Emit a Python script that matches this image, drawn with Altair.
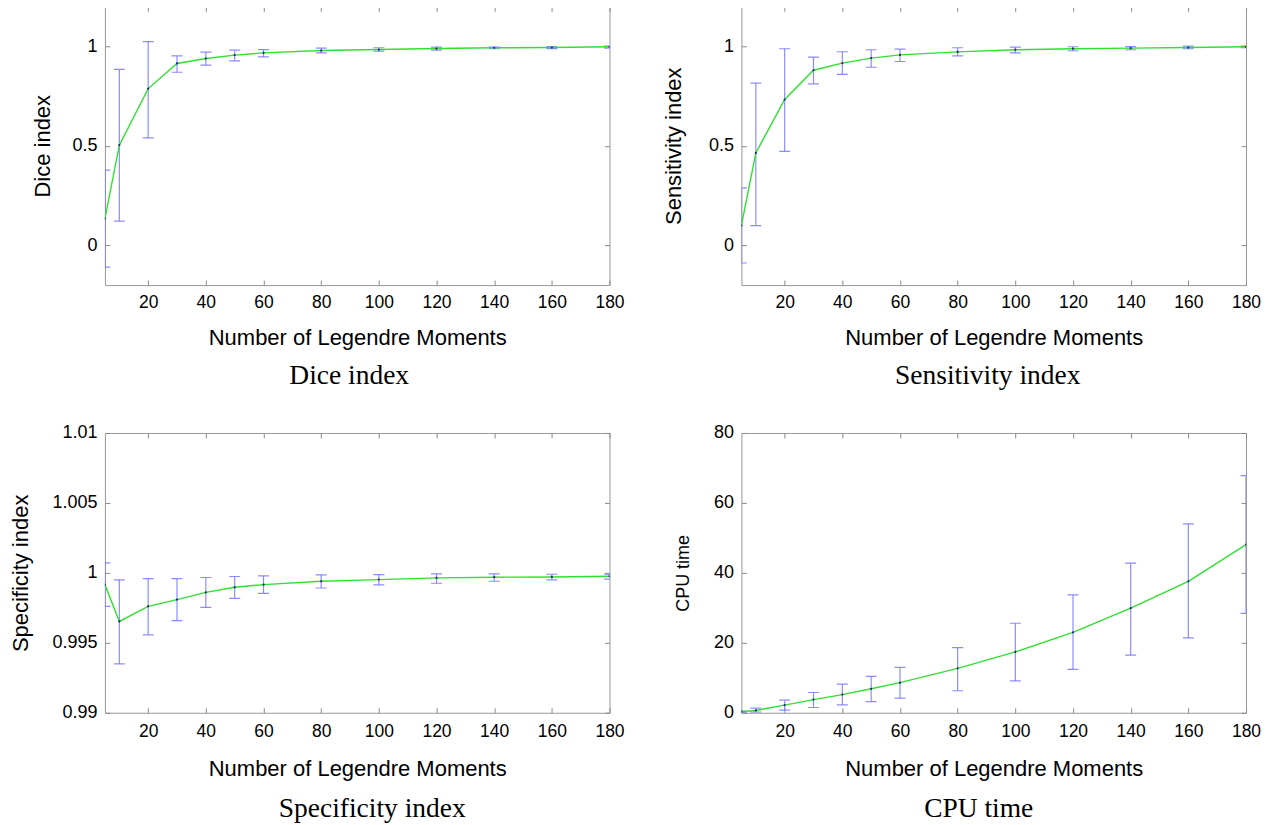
import altair as alt
import pandas as pd

# Number of Legendre moments
n_moments = [5, 10, 20, 30, 40, 50, 60, 80, 100, 120, 140, 160, 180]
x_ticks = [20, 40, 60, 80, 100, 120, 140, 160, 180]

# Dice index
dice_mean = [0.134, 0.503, 0.787, 0.913, 0.938, 0.955, 0.966, 0.978, 0.983, 0.988, 0.992, 0.993, 0.997]
dice_lo = [-0.11, 0.121, 0.539, 0.869, 0.905, 0.926, 0.946, 0.966, 0.975, 0.980, 0.987, 0.988, 0.990]
dice_hi = [0.377, 0.883, 1.023, 0.951, 0.970, 0.980, 0.983, 0.990, 0.992, 0.995, 0.995, 0.998, 1.0]

# Sensitivity index
sens_mean = [0.099, 0.464, 0.732, 0.879, 0.915, 0.940, 0.956, 0.971, 0.982, 0.987, 0.990, 0.993, 0.997]
sens_lo = [-0.089, 0.099, 0.472, 0.811, 0.858, 0.894, 0.923, 0.951, 0.966, 0.977, 0.982, 0.987, 0.992]
sens_hi = [0.288, 0.814, 0.987, 0.945, 0.972, 0.982, 0.985, 0.992, 0.995, 0.997, 0.998, 1.0, 1.0]

# Specificity index
spec_mean = [0.99916, 0.99653, 0.99761, 0.99809, 0.99861, 0.99897, 0.99916, 0.9994, 0.99952, 0.99964, 0.99969, 0.99971, 0.99976]
spec_lo = [0.99761, 0.99349, 0.99557, 0.99658, 0.99754, 0.99818, 0.99854, 0.99892, 0.99914, 0.99926, 0.9994, 0.9995, 0.99955]
spec_hi = [1.00072, 0.9995, 0.99959, 0.99959, 0.99967, 0.99974, 0.99978, 0.99986, 0.99988, 0.99993, 0.99993, 0.9999, 0.9999]

# CPU time
cpu_mean = [0.3, 0.66, 2.2, 3.76, 5.2, 6.85, 8.6, 12.7, 17.4, 23.0, 29.9, 37.6, 48.1]
cpu_lo = [0.1, 0.19, 0.75, 1.5, 2.25, 3.2, 4.2, 6.3, 9.1, 12.4, 16.5, 21.4, 28.4]
cpu_hi = [0.5, 1.3, 3.6, 5.8, 8.2, 10.4, 13.0, 18.6, 25.6, 33.7, 42.8, 54.0, 67.8]

SANS = "Liberation Sans"
SERIF = "Liberation Serif"
TICK_GRAY = "#8a8a8a"
BAR_BLUE = "#7878ff"
LINE_GREEN = "#30e030"


def inward(values, orient):
    return alt.Axis(values=values, orient=orient, labels=False, domain=False, grid=False,
                    ticks=True, tickSize=5, tickColor=TICK_GRAY, tickWidth=1, offset=-5,
                    minExtent=0, maxExtent=0, title=None)


def make_panel(mean, lo, hi, y_ticks, y_domain, y_title, y_title_size, y_title_pad,
               caption, cap_dx, cap_offset, x_label_pad, x_title_pad, height):
    df = pd.DataFrame({"n": n_moments, "v": mean, "lo": lo, "hi": hi})
    xs = alt.Scale(domain=[5, 180], nice=False, zero=False)
    ys = alt.Scale(domain=y_domain, nice=False, zero=False)
    base = alt.Chart(df)

    rule = base.mark_rule(color=BAR_BLUE, strokeWidth=1.2, clip=True, opacity=0.85).encode(
        x=alt.X("n:Q", scale=xs, axis=inward(x_ticks, "bottom")),
        y=alt.Y("lo:Q", scale=ys, axis=inward(y_ticks, "left")),
        y2="hi:Q",
    )
    cap_lo = base.mark_tick(orient="horizontal", size=11, thickness=1.2, color=BAR_BLUE,
                            clip=True, opacity=0.85).encode(
        x=alt.X("n:Q", scale=xs, axis=inward(x_ticks, "top")),
        y=alt.Y("lo:Q", scale=ys, axis=inward(y_ticks, "right")),
    )
    cap_hi = base.mark_tick(orient="horizontal", size=11, thickness=1.2, color=BAR_BLUE,
                            clip=True, opacity=0.85).encode(
        x=alt.X("n:Q", scale=xs, axis=None),
        y=alt.Y("hi:Q", scale=ys, axis=None),
    )
    line = base.mark_line(color=LINE_GREEN, strokeWidth=1.4, clip=True).encode(
        x=alt.X("n:Q", scale=xs, axis=alt.Axis(
            values=x_ticks, ticks=False, domain=False, grid=False, labelFlush=False,
            labelPadding=x_label_pad, labelFont=SANS, labelFontSize=17.5, labelColor="black",
            title="Number of Legendre Moments", titleFont=SANS, titleFontSize=22,
            titleFontWeight="normal", titleColor="black", titlePadding=x_title_pad)),
        y=alt.Y("v:Q", scale=ys, axis=alt.Axis(
            values=y_ticks, labelExpr="format(datum.value, '~g')", ticks=False,
            domain=False, grid=False,
            labelPadding=8, labelFont=SANS, labelFontSize=18, labelColor="black",
            title=y_title, titleFont=SANS, titleFontSize=y_title_size,
            titleFontWeight="normal", titleColor="black", titlePadding=y_title_pad)),
    )
    pts = base.mark_point(filled=True, size=5, color="#15157a", opacity=0.9, clip=True).encode(
        x=alt.X("n:Q", scale=xs, axis=None),
        y=alt.Y("v:Q", scale=ys, axis=None),
    )
    return alt.layer(rule, cap_lo, cap_hi, line, pts).resolve_axis(
        x="independent", y="independent"
    ).properties(
        width=505, height=height,
        title=alt.TitleParams(text=caption, orient="bottom", anchor="middle", frame="group",
                              font=SERIF, fontSize=27.5, fontWeight="normal", color="black",
                              offset=cap_offset, dx=cap_dx),
    )


p1 = make_panel(dice_mean, dice_lo, dice_hi, [0, 0.5, 1], [-0.2, 1.2], "Dice index", 22, 17.6,
                "Dice index", -8, 13, 8, 17, 279)
p2 = make_panel(sens_mean, sens_lo, sens_hi, [0, 0.5, 1], [-0.2, 1.2], "Sensitivity index", 22, 22.8,
                "Sensitivity index", -6, 13, 8, 17, 279)
p3 = make_panel(spec_mean, spec_lo, spec_hi, [0.99, 0.995, 1, 1.005, 1.01], [0.99, 1.01],
                "Specificity index", 22, 19.7, "Specificity index", 15, 16, 10, 18, 280)
p4 = make_panel(cpu_mean, cpu_lo, cpu_hi, [0, 20, 40, 60, 80], [0, 80], "CPU time", 18, 21,
                "CPU time", -15, 16, 10, 18, 280)

chart = alt.concat(p1, p2, p3, p4, columns=2, align="each",
                   spacing={"row": 33, "column": 36}).properties(
    padding={"left": 0, "top": -3, "right": 0, "bottom": 0},
    background="white",
).configure_view(stroke="#999999", strokeWidth=1)

chart.save("out.html", embed_options={"renderer": "svg", "actions": False})
